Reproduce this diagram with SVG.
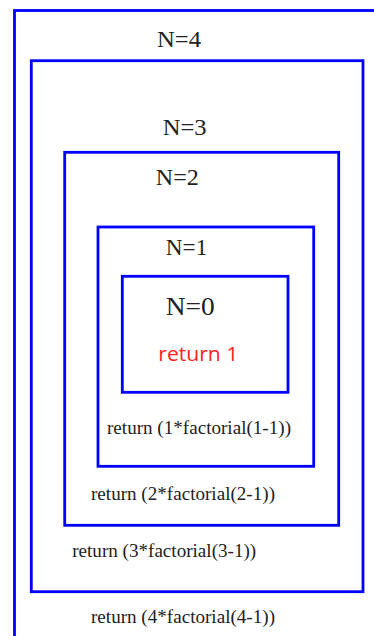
<svg xmlns="http://www.w3.org/2000/svg" width="374" height="636" viewBox="0 0 374 636">
<style>
.box{fill:none;stroke:#0000ff;stroke-width:2.8}
.n{font-family:"Liberation Serif","Times New Roman",serif;font-size:23.5px;fill:#222;text-anchor:middle}
.r{font-family:"Liberation Serif","Times New Roman",serif;font-size:18px;fill:#222;text-anchor:middle}
.red{font-family:"Open Sans","Liberation Sans",sans-serif;font-size:20px;fill:#ff2020;text-anchor:middle}
</style>
<rect width="374" height="636" fill="#fff"/>
<g id="n4">
<rect class="box" x="14.5" y="10.5" width="380" height="640"/>
<text class="n" x="179" y="47" textLength="44" lengthAdjust="spacingAndGlyphs">N=4</text>
<text class="r" x="183" y="623" textLength="184" lengthAdjust="spacingAndGlyphs">return (4*factorial(4-1))</text>
</g>
<g id="n3">
<rect class="box" x="31.3" y="60.7" width="331.7" height="531"/>
<text class="n" x="184.7" y="135" textLength="44" lengthAdjust="spacingAndGlyphs">N=3</text>
<text class="r" x="164.2" y="557" textLength="184" lengthAdjust="spacingAndGlyphs">return (3*factorial(3-1))</text>
</g>
<g id="n2">
<rect class="box" x="64.7" y="152.3" width="274" height="373"/>
<text class="n" x="177.3" y="184.5" textLength="43" lengthAdjust="spacingAndGlyphs">N=2</text>
<text class="r" x="183" y="499.5" textLength="184" lengthAdjust="spacingAndGlyphs">return (2*factorial(2-1))</text>
</g>
<g id="n1">
<rect class="box" x="98" y="227" width="215.7" height="239.3"/>
<text class="n" x="186.5" y="255" textLength="41.5" lengthAdjust="spacingAndGlyphs">N=1</text>
<text class="r" x="199" y="433.5" textLength="184" lengthAdjust="spacingAndGlyphs">return (1*factorial(1-1))</text>
</g>
<g id="n0">
<rect class="box" x="122.3" y="276.3" width="165.7" height="116"/>
<text class="n" x="190.3" y="315" style="font-size:26px" textLength="49" lengthAdjust="spacingAndGlyphs">N=0</text>
<text class="red" x="198.3" y="361" textLength="80" lengthAdjust="spacingAndGlyphs">return 1</text>
</g>
<g id="connectors"/>
</svg>
